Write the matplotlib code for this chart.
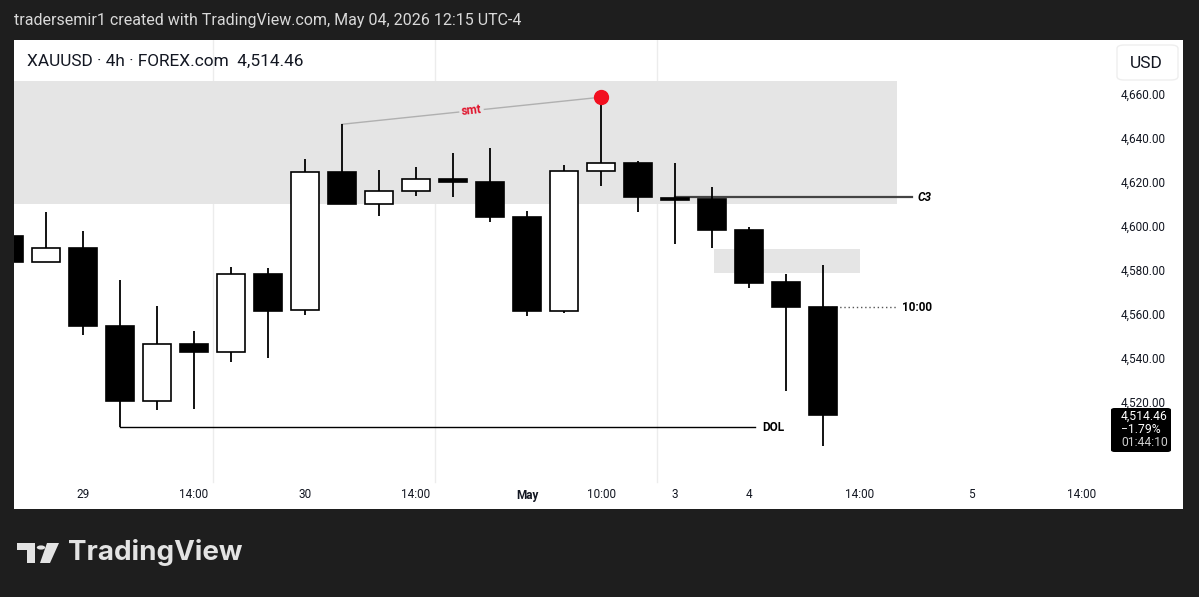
import numpy as np
import matplotlib.pyplot as plt
from matplotlib.patches import Rectangle, FancyBboxPatch, Polygon, Circle
import matplotlib.transforms as mtransforms
import math

plt.rcParams['font.family'] = ['Roboto', 'DejaVu Sans']

# 4h candles, XAUUSD
opens = [4596.0, 4584.2, 4590.3, 4555.0, 4521.0, 4546.7, 4543.0, 4578.5, 4562.3, 4624.9, 4610.5, 4616.4,
         4622.0, 4620.3, 4604.4, 4562.0, 4625.3, 4629.0, 4613.3, 4612.7, 4598.6, 4574.8, 4563.5]
highs = [4599.0, 4607.0, 4598.2, 4576.0, 4564.2, 4552.7, 4582.0, 4581.4, 4631.1, 4646.7, 4625.9, 4627.1,
         4633.6, 4635.8, 4607.4, 4628.2, 4659.0, 4630.2, 4629.0, 4618.3, 4600.2, 4578.6, 4582.7]
lows = [4582.0, 4584.0, 4551.0, 4509.0, 4517.0, 4517.4, 4538.8, 4540.3, 4559.9, 4610.5, 4605.0, 4614.1,
        4613.5, 4602.4, 4559.7, 4561.1, 4618.6, 4606.8, 4592.3, 4590.6, 4572.1, 4525.6, 4500.5]
closes = [4584.2, 4590.3, 4555.0, 4521.0, 4546.7, 4543.0, 4578.5, 4562.0, 4624.9, 4610.5, 4616.4, 4621.8,
          4620.5, 4604.4, 4562.0, 4625.3, 4629.0, 4613.5, 4612.3, 4598.6, 4574.7, 4563.5, 4514.46]

price_ticks = [4520, 4540, 4560, 4580, 4600, 4620, 4640, 4660]
time_tick_idx = [2, 5, 8, 11, 14, 16, 18, 20, 23, 26, 29]
time_tick_labels = ["29", "14:00", "30", "14:00", "May", "10:00", "3", "4", "14:00", "5", "14:00"]
session_breaks = [5.5, 11.5, 17.5]

# drawings
big_zone = (-1, 24.0, 4610.5, 4666.4)      # x0, x1, y0, y1
small_zone = (19.05, 23.0, 4579.2, 4589.9)
c3_level, c3_x = 4613.6, (18, 24.4)
dol_level, dol_x = 4509.0, (3, 20.15)
open_level, open_x = 4563.5, (22, 24.0)
smt_pts = [(9, 4646.7), (16, 4659.0)]

W, H = 1199, 597
fig = plt.figure(figsize=(W / 100, H / 100), dpi=100, facecolor='#1e1e1e')

def fx(px):
    return px / W

def fy(py):
    return 1 - py / H

# white chart card
fig.add_artist(Rectangle((fx(14), fy(509)), fx(1183) - fx(14), fy(40) - fy(509),
                         transform=fig.transFigure, facecolor='white', edgecolor='none', zorder=0))

ax = fig.add_axes([fx(14), fy(509), fx(1110) - fx(14), fy(40) - fy(509)])
ax.set_facecolor('none')
ax.set_xlim((14 - 9) / 37, (1110 - 9) / 37)
ax.set_ylim(4660 - (509 - 95) / 2.2, 4660 + (95 - 40) / 2.2)
ax.axis('off')

# session separators
for s in session_breaks:
    ax.plot([s, s], [4484, 4700], color='#ececec', lw=1, zorder=1)

# zones
for z in (big_zone, small_zone):
    ax.add_patch(Rectangle((z[0], z[2]), z[1] - z[0], z[3] - z[2], facecolor='#e5e5e5',
                           edgecolor='none', zorder=1))

# candles
x = np.arange(len(opens))
ax.vlines(x, lows, highs, color='black', lw=1.3, zorder=3)
for i in range(len(opens)):
    o, c = opens[i], closes[i]
    bottom = min(o, c)
    height = max(abs(c - o), 0.7)
    fc = 'white' if c > o else 'black'
    ax.bar(i, height, bottom=bottom, width=0.78, color=fc, edgecolor='black', lw=1.2, zorder=4)

# level lines
ax.plot(c3_x, [c3_level, c3_level], color='#444444', lw=1.6, zorder=2)
ax.text(c3_x[1] + 0.15, c3_level, "C3", fontsize=8.5, fontweight='bold', style='italic',
        va='center', ha='left', color='black')
ax.plot([dol_x[0], dol_x[0]], [lows[3], dol_level], color='black', lw=1, zorder=2)
ax.plot(dol_x, [dol_level, dol_level], color='black', lw=1, zorder=2)
ax.text(dol_x[1] + 0.2, dol_level, "DOL", fontsize=8.5, fontweight='bold', va='center',
        ha='left', color='black')
ax.plot(open_x, [open_level, open_level], color='#555555', lw=1, ls=(0, (1, 2)), zorder=2)
ax.text(open_x[1] + 0.13, open_level, "10:00", fontsize=8.5, fontweight='bold', va='center',
        ha='left', color='black')

# smt
(sx0, sy0), (sx1, sy1) = smt_pts
ax.plot([sx0, sx1], [sy0, sy1], color='#b0b0b0', lw=1, zorder=2)
p0 = ax.transData.transform((sx0, sy0))
p1 = ax.transData.transform((sx1, sy1))
ang = math.degrees(math.atan2(p1[1] - p0[1], p1[0] - p0[0]))
ax.text((sx0 + sx1) / 2, (sy0 + sy1) / 2, "smt", fontsize=8.5, fontweight='bold', color='#e0142c',
        rotation=ang, rotation_mode='anchor', ha='center', va='center', zorder=3,
        bbox=dict(facecolor='#e5e5e5', edgecolor='none', pad=1.5))
ax.plot(sx1, sy1, 'o', color='#f20f1f', ms=10, zorder=6)

# price scale
ytr = mtransforms.blended_transform_factory(fig.transFigure, ax.transData)
for p in price_ticks:
    ax.text(fx(1121), p, "{:,.2f}".format(p), transform=ytr, fontsize=8.5, color='#131722',
            ha='left', va='center', clip_on=False)

# last price box
fig.add_artist(FancyBboxPatch((fx(1111), fy(452)), fx(1171) - fx(1111), fy(408) - fy(452),
                              boxstyle='round,pad=0,rounding_size=0.003', transform=fig.transFigure,
                              facecolor='black', edgecolor='none', zorder=5))
for txt, yy, col in [("4,514.46", 416.5, 'white'), ("\u22121.79%", 429.5, 'white'), ("01:44:10", 442.5, '#cfcfcf')]:
    fig.text(fx(1121), fy(yy), txt, fontsize=8.7, color=col, ha='left', va='center', zorder=6)

# time scale
xtr = mtransforms.blended_transform_factory(ax.transData, fig.transFigure)
for i, lab in zip(time_tick_idx, time_tick_labels):
    ax.text(i, fy(495), lab, transform=xtr, fontsize=8.5, color='#131722', ha='center',
            va='center', fontweight='bold' if lab == "May" else 'normal', clip_on=False)

# legend / title
fig.text(fx(27), fy(61), "XAUUSD \u00b7 4h \u00b7 FOREX.com  4,514.46", fontsize=12.4, color='#131722',
         ha='left', va='center')

# USD button
fig.add_artist(FancyBboxPatch((fx(1117), fy(80)), fx(1178) - fx(1117), fy(45) - fy(80),
                              boxstyle='round,pad=0,rounding_size=0.006', transform=fig.transFigure,
                              facecolor='white', edgecolor='#eeeeee', lw=1, zorder=5))
fig.text(fx(1146), fy(63), "USD", fontsize=12.5, color='#131722', ha='center', va='center', zorder=6)

# header and footer
fig.text(fx(14), fy(20), "tradersemir1 created with TradingView.com, May 04, 2026 12:15 UTC-4",
         fontsize=11.5, color='#d9d9d9', ha='left', va='center')

logo_col = '#e3e3e3'
fig.add_artist(Polygon([(fx(17), fy(543)), (fx(35), fy(543)), (fx(35), fy(563)), (fx(27), fy(563)),
                        (fx(27), fy(550)), (fx(17), fy(550))], closed=True, transform=fig.transFigure,
                       facecolor=logo_col, edgecolor='none'))
fig.add_artist(Circle((fx(41), fy(547.5)), 4.2 / W, transform=fig.transFigure, facecolor=logo_col,
                      edgecolor='none'))
fig.add_artist(Polygon([(fx(47), fy(543)), (fx(59), fy(543)), (fx(50), fy(563)), (fx(40), fy(563))],
                       closed=True, transform=fig.transFigure, facecolor=logo_col, edgecolor='none'))
fig.text(fx(68), fy(553), "TradingView", fontsize=20, fontweight='bold', color=logo_col,
         ha='left', va='center', family=['Inter', 'DejaVu Sans'])

fig.savefig("out.png", dpi=100, facecolor=fig.get_facecolor())
